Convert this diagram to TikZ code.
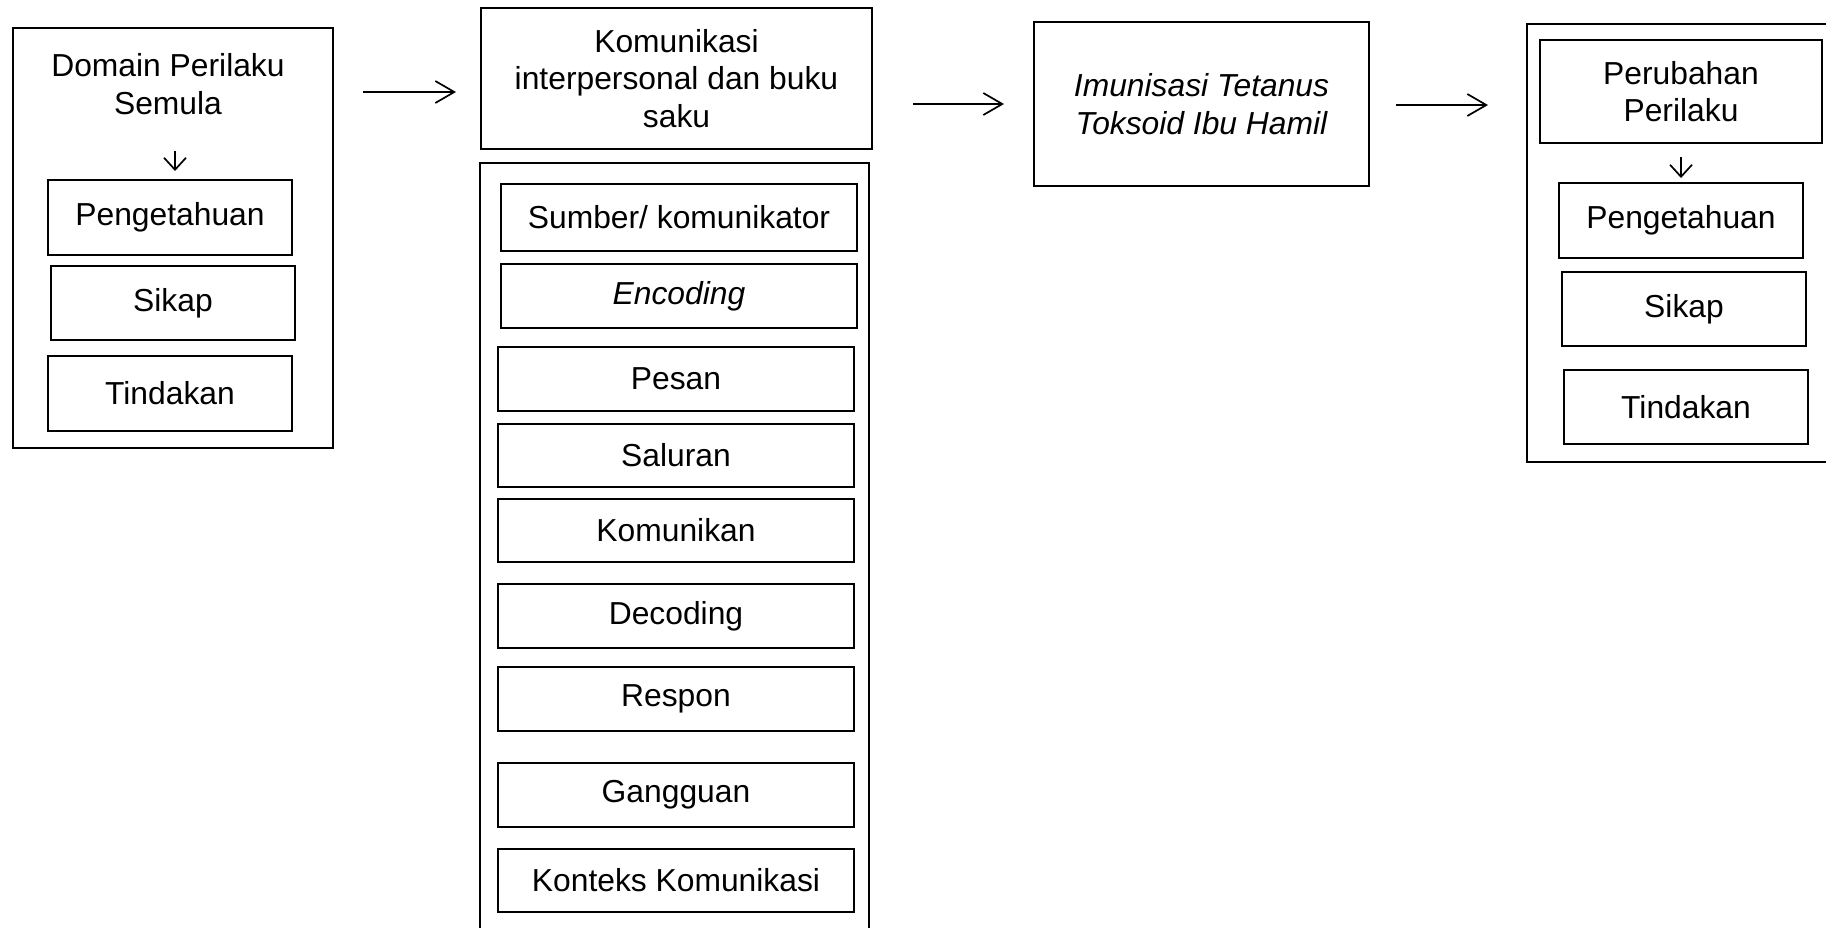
\documentclass[tikz,border=0pt]{standalone}
\usepackage{fontspec}
\setmainfont{Liberation Sans}
\usetikzlibrary{arrows.meta}
\tikzset{
  bx/.style={draw, line width=1.7pt, inner sep=0pt, align=center, font=\fontsize{31.8}{37.5}\selectfont},
  frame/.style={draw, line width=2.2pt},
  lbl/.style={inner sep=0pt, align=center, font=\fontsize{31.8}{37.5}\selectfont},
  flow/.style={line width=1.7pt, -{Straight Barb[length=19pt,width=22pt,line width=1.7pt]}},
  down/.style={line width=1.7pt, -{Straight Barb[length=12pt,width=22pt,line width=1.7pt]}}
}
\newcommand{\bxn}[6]{\node[bx, minimum width={(#4)-(#2)}, minimum height={(#5)-(#3)}] (#1) at ({((#2)+(#4))/2},{((#3)+(#5))/2}) {#6};}
\begin{document}
\begin{tikzpicture}[x=1pt,y=-1pt]
\clip (0,0) rectangle (1826,927);
\fill[white] (0,0) rectangle (1826,927);
% left column
\node[frame, inner sep=0pt, minimum width=320pt, minimum height=420pt] (leftbox) at (173,238) {};
\node[lbl] (domain) at (168,84) {Domain Perilaku\\Semula};
\coordinate (da1) at (175,151);
\coordinate (da2) at (175,171);
\draw[down] (da1) -- (da2);
\bxn{lp}{48}{180}{292}{255}{Pengetahuan}
\bxn{ls}{51}{266}{295}{340}{Sikap}
\bxn{lt}{48}{356}{292}{431}{Tindakan}
% middle column
\bxn{kom}{481}{8}{872}{149}{Komunikasi\\interpersonal dan buku\\saku}
\draw[frame, line width=2.4pt] (480,980) -- (480,163) -- (869,163) -- (869,980);
\bxn{m1}{501}{184}{857}{251}{Sumber/ komunikator}
\bxn{m2}{501}{264}{857}{328}{\itshape Encoding}
\bxn{m3}{498}{347}{854}{411}{Pesan}
\bxn{m4}{498}{424}{854}{487}{Saluran}
\bxn{m5}{498}{499}{854}{562}{Komunikan}
\bxn{m6}{498}{584}{854}{648}{Decoding}
\bxn{m7}{498}{667}{854}{731}{Respon}
\bxn{m8}{498}{763}{854}{827}{Gangguan}
\bxn{m9}{498}{849}{854}{912}{Konteks Komunikasi}
% third
\bxn{imu}{1034}{22}{1369}{186}{\itshape Imunisasi Tetanus\\\itshape Toksoid Ibu Hamil}
% right column
\draw[line width=1.7pt] (1850,24) -- (1527,24) -- (1527,462) -- (1850,462);
\bxn{per}{1540}{40}{1822}{143}{Perubahan\\Perilaku}
\coordinate (ra1) at (1681,157);
\coordinate (ra2) at (1681,178);
\draw[down] (ra1) -- (ra2);
\bxn{rp}{1559}{183}{1803}{258}{Pengetahuan}
\bxn{rs}{1562}{272}{1806}{346}{Sikap}
\bxn{rt}{1564}{370}{1808}{444}{Tindakan}
% arrows between columns
\coordinate (f1a) at (363,92); \coordinate (f1b) at (456,92);
\coordinate (f2a) at (913,104); \coordinate (f2b) at (1004,104);
\coordinate (f3a) at (1396,105); \coordinate (f3b) at (1488,105);
\draw[flow] (f1a) -- (f1b);
\draw[flow] (f2a) -- (f2b);
\draw[flow] (f3a) -- (f3b);
\end{tikzpicture}
\end{document}
